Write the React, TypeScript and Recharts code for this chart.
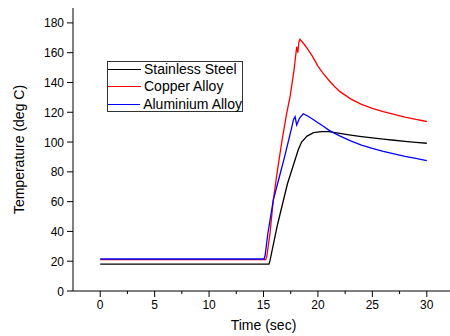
import React from 'react'
import { LineChart, Line, XAxis, YAxis, Legend } from 'recharts'

// time (sec) / temperature (deg C)
const steelTime = [0, 15.5, 15.6, 16.3, 17.2, 18.2, 18.5, 19.0, 19.6, 20.3, 21.0, 22.0, 23.0, 24.0, 25.0, 26.0, 27.0, 28.0, 29.0, 30.0]
const steelTemp = [18, 18, 20.5, 45, 72, 95, 100, 104, 106.3, 107, 107, 105.8, 104.7, 103.7, 102.8, 102, 101.2, 100.5, 99.8, 99.2]

const copperTime = [0, 15.2, 15.3, 15.6, 15.9, 16.3, 16.7, 17.1, 17.45, 17.8, 18.05, 18.15, 18.25, 18.35, 18.7, 19.0, 19.5, 20.0, 20.5, 21.0, 21.5, 22.0, 23.0, 24.0, 25.0, 26.0, 27.0, 28.0, 29.0, 30.0]
const copperTemp = [21, 21, 23, 39, 61, 82, 101, 118, 131, 148, 164, 160, 167, 169, 166, 163, 157.5, 151, 146, 141.5, 137.5, 134, 129, 125.3, 122.6, 120.5, 118.6, 116.8, 115.2, 113.8]

const aluTime = [0, 15.05, 15.15, 15.4, 15.9, 16.4, 16.9, 17.3, 17.6, 17.75, 17.9, 18.05, 18.3, 18.65, 19.1, 19.6, 20.0, 20.5, 21.0, 21.5, 22.0, 23.0, 24.0, 25.0, 26.0, 27.0, 28.0, 29.0, 30.0]
const aluTemp = [21.5, 21.5, 24, 38.6, 61, 75, 89, 101, 110, 115, 117, 111.5, 116, 119, 117.3, 115, 113, 110.6, 108, 106, 104.2, 100.8, 98, 95.8, 93.8, 92, 90.4, 89, 87.5]

const seriesNames = ['Stainless Steel', 'Copper Alloy', 'Aluminium Alloy']
const seriesColors = ['#000000', '#ff0000', '#0000ff']

const xTicks = [0, 2.5, 5, 7.5, 10, 12.5, 15, 17.5, 20, 22.5, 25, 27.5, 30]
const yTicks = [0, 10, 20, 30, 40, 50, 60, 70, 80, 90, 100, 110, 120, 130, 140, 150, 160, 170, 180]

const zip = (t: number[], v: number[]) => t.map((x, i) => ({ t: x, v: v[i] }))
const series = [zip(steelTime, steelTemp), zip(copperTime, copperTemp), zip(aluTime, aluTemp)]

const font = 'Liberation Sans, Arial, sans-serif'

const BottomTick = ({ x, y, payload }: any) => {
  const major = payload.value % 5 === 0
  return (
    <g>
      <line x1={x} x2={x} y1={y} y2={y + (major ? 6 : 3)} stroke="#000" />
      {major && (
        <text x={x} y={y + 18} textAnchor="middle" fontSize={12} fontFamily={font} fill="#000">
          {payload.value}
        </text>
      )}
    </g>
  )
}

const TopTick = ({ x, y }: any) => <line x1={x} x2={x} y1={y} y2={y + 3} stroke="#000" />

const LeftTick = ({ x, y, payload }: any) => {
  const major = payload.value % 20 === 0
  return (
    <g>
      <line x1={x} x2={x - (major ? 6 : 3)} y1={y} y2={y} stroke="#000" />
      {major && (
        <text x={x - 9} y={y + 4.5} textAnchor="end" fontSize={12} fontFamily={font} fill="#000">
          {payload.value}
        </text>
      )}
    </g>
  )
}

const LegendBox = () => (
  <div
    style={{
      border: '1px solid #333',
      width: 136,
      height: 51,
      boxSizing: 'border-box',
      background: '#fff',
      fontFamily: font,
      fontSize: 14,
      color: '#000',
    }}
  >
    <div style={{ marginTop: -1.5 }}>
      {seriesNames.map((name, i) => (
        <div key={name} style={{ display: 'flex', alignItems: 'center', height: 17.5, whiteSpace: 'nowrap' }}>
          <span style={{ width: 33, borderTop: `1.3px solid ${seriesColors[i]}`, marginRight: 3 }} />
          <span style={{ lineHeight: '17.5px' }}>{name}</span>
        </div>
      ))}
    </div>
  </div>
)

export default function App() {
  return (
    <div style={{ position: 'absolute', left: 0, top: 0, width: 450, height: 336, overflow: 'hidden', background: '#fff' }}>
      <LineChart width={460} height={336} margin={{ top: 8, right: 6, bottom: 0, left: 0 }}>
        <XAxis
          dataKey="t"
          type="number"
          domain={[-2.5, 32.5]}
          ticks={xTicks}
          height={45}
          tickSize={0}
          tickMargin={0}
          tickLine={false}
          tick={BottomTick}
          axisLine={{ stroke: '#000' }}
          allowDataOverflow
          label={{ value: 'Time (sec)', position: 'center', dy: 12, fill: '#000', fontSize: 14, fontFamily: font }}
        />
        <XAxis
          xAxisId="top"
          orientation="top"
          type="number"
          domain={[-2.5, 32.5]}
          ticks={xTicks}
          height={0}
          tickSize={0}
          tickMargin={0}
          tickLine={false}
          tick={TopTick}
          axisLine={{ stroke: '#000' }}
          allowDataOverflow
        />
        <YAxis
          type="number"
          domain={[0, 190]}
          ticks={yTicks}
          width={73}
          tickSize={0}
          tickMargin={0}
          tickLine={false}
          tick={LeftTick}
          axisLine={{ stroke: '#000' }}
          allowDataOverflow
          label={{ value: 'Temperature (deg C)', angle: -90, position: 'center', dx: -17.5, fill: '#000', fontSize: 14, fontFamily: font }}
        />
        <Legend
          layout="vertical"
          align="center"
          verticalAlign="middle"
          content={LegendBox}
          wrapperStyle={{ left: 107, top: 61, width: 'auto', height: 'auto' }}
        />
        {series.map((d, i) => (
          <Line
            key={seriesNames[i]}
            data={d}
            dataKey="v"
            name={seriesNames[i]}
            type="linear"
            stroke={seriesColors[i]}
            strokeWidth={1.3}
            dot={false}
            activeDot={false}
            isAnimationActive={false}
          />
        ))}
      </LineChart>
    </div>
  )
}
